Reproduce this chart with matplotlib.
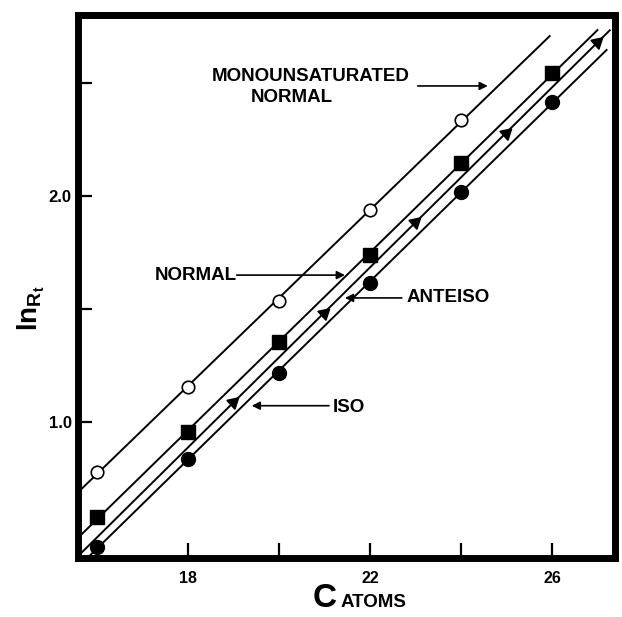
import numpy as np
import matplotlib
matplotlib.use("Agg")
import matplotlib.pyplot as plt

plt.rcParams['font.family'] = ['Liberation Sans', 'DejaVu Sans']
plt.rcParams['font.weight'] = 'bold'
plt.rcParams['mathtext.fontset'] = 'custom'
plt.rcParams['mathtext.bf'] = 'Liberation Sans:bold'
plt.rcParams['mathtext.rm'] = 'Liberation Sans:bold'

# carbon numbers and ln(Rt) values
even_c = [16, 18, 20, 22, 24, 26]
mono_c = [16, 18, 20, 22, 24]
mono_vals = [0.78, 1.155, 1.535, 1.94, 2.335]
normal_vals = [0.58, 0.956, 1.355, 1.74, 2.146, 2.544]
iso_vals = [0.447, 0.836, 1.217, 1.615, 2.018, 2.416]
anteiso_c = [19, 21, 23, 25, 27]
anteiso_vals = [1.088, 1.482, 1.885, 2.28, 2.68]

# x extent of each fitted line
mono_span = (15.59, 25.95)
normal_span = (15.59, 27.0)
iso_span = (15.59, 27.2)
anteiso_span = (15.59, 27.27)

fig = plt.figure(figsize=(6.22, 6.17), dpi=100)
ax = fig.add_axes([0.1262, 0.0956, 0.9895 - 0.1262, 0.9757 - 0.0956])


def fit_line(xs, ys, span):
    k, b = np.polyfit(xs, ys, 1)
    xx = np.array(span)
    ax.plot(xx, k * xx + b, color='black', lw=1.4, zorder=2)
    return k


fit_line(mono_c, mono_vals, mono_span)
fit_line(even_c, normal_vals, normal_span)
fit_line(even_c, iso_vals, iso_span)
fit_line(anteiso_c, anteiso_vals, anteiso_span)

ax.plot(mono_c, mono_vals, 'o', ms=9, mfc='white', mec='black', mew=1.2, zorder=3)
ax.plot(even_c, normal_vals, 's', ms=10, color='black', zorder=3)
ax.plot(even_c, iso_vals, 'o', ms=10, color='black', zorder=3)
ax.plot(anteiso_c, anteiso_vals, marker=(3, 0, -48), ls='none', ms=10,
        color='black', zorder=3)

ax.set_xlim(15.593, 27.396)
ax.set_ylim(0.398, 2.801)

ax.set_xticks([18, 20, 22, 24, 26])
ax.set_xticklabels(['18', '', '22', '', '26'])
ax.set_yticks([1.0, 1.5, 2.0, 2.5])
ax.set_yticklabels(['1.0', '', '2.0', ''])
ax.tick_params(axis='x', direction='in', length=11, width=1.6, pad=9,
               labelsize=11.5)
ax.tick_params(axis='y', direction='in', length=10, width=1.6, pad=5,
               labelsize=12)
for s in ax.spines.values():
    s.set_linewidth(5)

arrow = dict(arrowstyle='-|>', color='black', lw=1.2, mutation_scale=12,
             shrinkA=0, shrinkB=0)
txt = dict(fontsize=13.5, fontweight='bold', va='center')

ax.text(18.53, 2.527, 'MONOUNSATURATED', ha='left', **txt)
ax.text(19.38, 2.438, 'NORMAL', ha='left', **txt)
ax.annotate('', xy=(24.59, 2.487), xytext=(23.05, 2.487), arrowprops=arrow)

ax.text(19.07, 1.646, 'NORMAL', ha='right', **txt)
ax.annotate('', xy=(21.45, 1.65), xytext=(19.07, 1.65), arrowprops=arrow)

ax.text(22.81, 1.549, 'ANTEISO', ha='left', **txt)
ax.annotate('', xy=(21.45, 1.549), xytext=(22.7, 1.549), arrowprops=arrow)

ax.text(21.18, 1.066, 'ISO', ha='left', **txt)
ax.annotate('', xy=(19.4, 1.072), xytext=(21.1, 1.072), arrowprops=arrow)

fig.text(0.050, 0.50, r'$\mathbf{ln_{R_t}}$', rotation=90, fontsize=20,
         ha='center', va='center')
fig.text(0.502, 0.016, 'C', fontsize=24, fontweight='bold', va='baseline')
fig.text(0.548, 0.016, 'ATOMS', fontsize=13.5, fontweight='bold', va='baseline')

fig.savefig('out.png', dpi=100)
